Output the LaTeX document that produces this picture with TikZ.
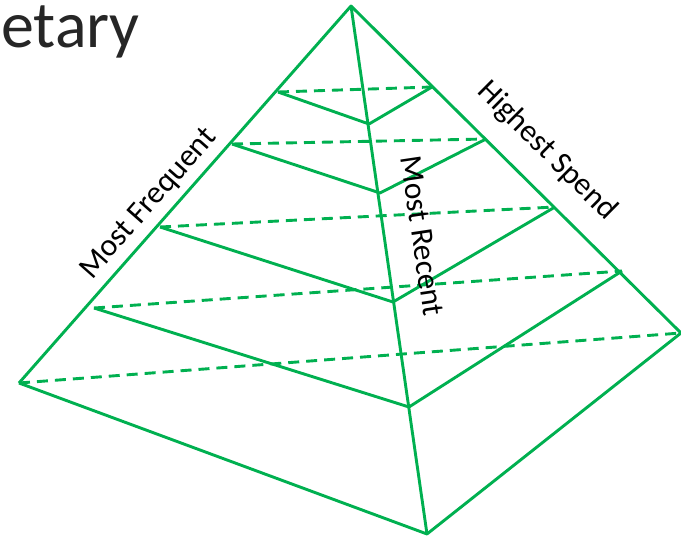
\documentclass[tikz,border=0pt]{standalone}
\usepackage{fontspec}
\setmainfont{Carlito}
\definecolor{pyrgreen}{HTML}{00B050}
\definecolor{titlegrey}{HTML}{262626}
\begin{document}
\begin{tikzpicture}[x=1pt,y=-1pt,
  edge/.style={draw=pyrgreen, line width=2.9pt, line join=round},
  backedge/.style={edge, dash pattern=on 11pt off 7pt},
  lbl/.style={font=\fontsize{31.5}{36}\selectfont, text=black, inner sep=0pt}]
\useasboundingbox (0,0) rectangle (681,538);
% main corners
\coordinate (A) at (351,6);
\coordinate (L) at (19,383);
\coordinate (F) at (427,534);
\coordinate (R) at (681,333);
% slice levels
\coordinate (l1) at (278,92);  \coordinate (c1) at (369,124); \coordinate (r1) at (432,87);
\coordinate (l2) at (232,144); \coordinate (c2) at (380,193); \coordinate (r2) at (486,139);
\coordinate (l3) at (160,227); \coordinate (c3) at (393,302); \coordinate (r3) at (555,207);
\coordinate (l4) at (94,308);  \coordinate (c4) at (409,407); \coordinate (r4) at (622,271);
% back (dashed) lines
\draw[backedge] (l1) -- (r1);
\draw[backedge] (l2) -- (r2);
\draw[backedge] (l3) -- (r3);
\draw[backedge] (l4) -- (r4);
\draw[backedge] (L) -- (R);
% pyramid edges
\draw[edge] (L) -- (A) -- (R);
\draw[edge] (A) -- (F);
\draw[edge] (L) -- (F) -- (R);
% slice front lines
\draw[edge] (l1) -- (c1) -- (r1);
\draw[edge] (l2) -- (c2) -- (r2);
\draw[edge] (l3) -- (c3) -- (r3);
\draw[edge] (l4) -- (c4) -- (r4);
% labels
\node[lbl, rotate=48.6] (mf) at (149,204) {Most Frequent};
\node[lbl, rotate=-44.7] (hs) at (547,151) {Highest Spend};
\node[lbl, rotate=-81.5] (mr) at (422,236) {Most Recent};
\node[anchor=base west, inner sep=0pt, text=titlegrey, font=\fontsize{66}{74}\selectfont] (title) at (1,47) {etary};
\end{tikzpicture}
\end{document}
